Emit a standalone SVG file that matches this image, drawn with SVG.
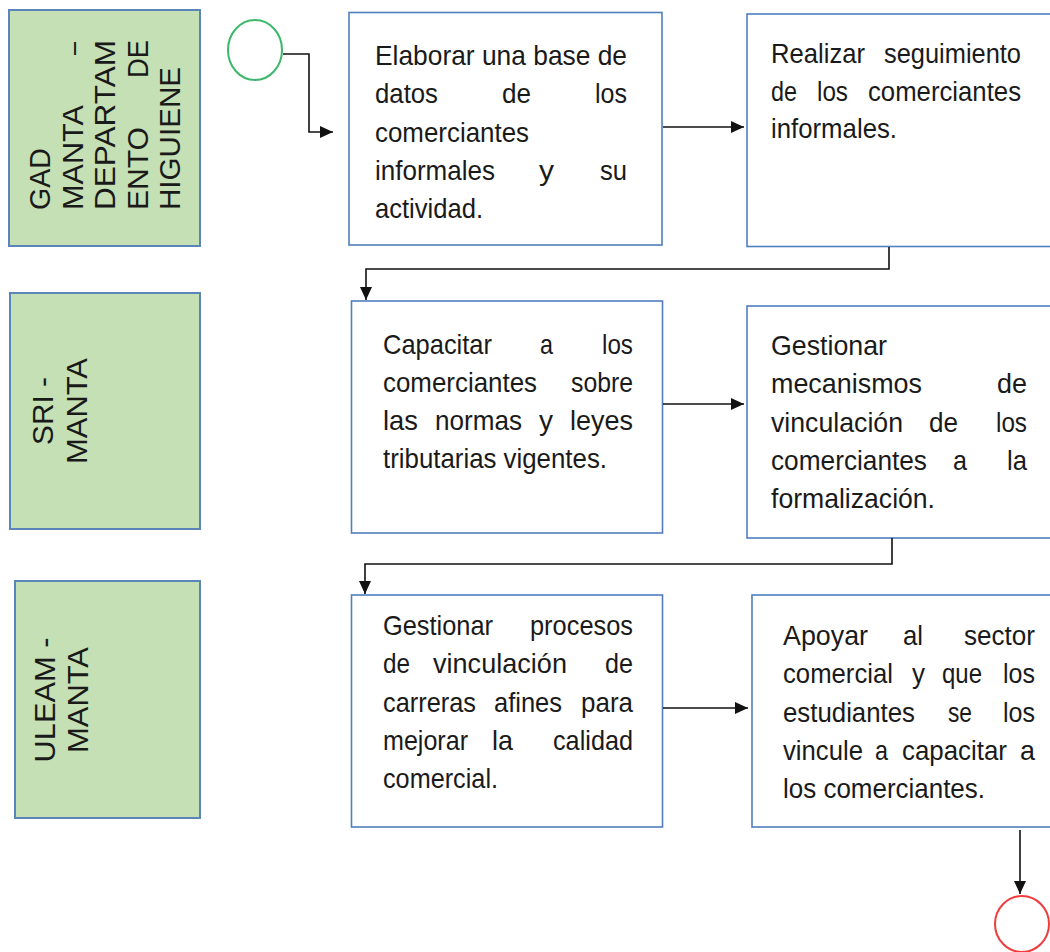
<svg xmlns="http://www.w3.org/2000/svg" width="1050" height="952" viewBox="0 0 1050 952">
<style>
.lane{fill:#c5e0b4;stroke:#5b84b8;stroke-width:2}
.box{fill:#ffffff;stroke:#4f7fbd;stroke-width:1.6}
.t{font-family:"Liberation Sans",Arial,sans-serif;font-size:27.5px;fill:#1a1a1a}
.lt{font-family:"Liberation Sans",Arial,sans-serif;font-size:29px;fill:#1a1a1a}
.c{fill:none;stroke:#111;stroke-width:1.6}
</style>
<defs>
<marker id="ah" markerUnits="userSpaceOnUse" markerWidth="14" markerHeight="14" viewBox="0 0 14 14" refX="13" refY="7" orient="auto">
<path d="M0,1 L13,7 L0,13 Z" fill="#111"/>
</marker>
</defs>
<rect width="1050" height="952" fill="#ffffff"/>

<g id="lane-gad">
<rect class="lane" x="9" y="10" width="191" height="236"/>
<g transform="translate(0,210) rotate(-90)">
<text class="lt" x="0" y="50" textLength="62" lengthAdjust="spacingAndGlyphs">GAD</text>
<text class="lt" x="0" y="83" textLength="105" lengthAdjust="spacingAndGlyphs">MANTA</text>
<text class="lt" x="155" y="83" textLength="13" lengthAdjust="spacingAndGlyphs">–</text>
<text class="lt" x="0" y="115" textLength="170" lengthAdjust="spacingAndGlyphs">DEPARTAM</text>
<text class="lt" x="0" y="148" textLength="83" lengthAdjust="spacingAndGlyphs">ENTO</text>
<text class="lt" x="132" y="148" textLength="38" lengthAdjust="spacingAndGlyphs">DE</text>
<text class="lt" x="0" y="180" textLength="143" lengthAdjust="spacingAndGlyphs">HIGUIENE</text>
</g>
</g>

<g id="lane-sri">
<rect class="lane" x="10" y="293" width="190" height="236"/>
<g transform="translate(0,411) rotate(-90)">
<text class="lt" x="0" y="53" text-anchor="middle" textLength="68" lengthAdjust="spacingAndGlyphs">SRI -</text>
<text class="lt" x="0" y="87" text-anchor="middle" textLength="106" lengthAdjust="spacingAndGlyphs">MANTA</text>
</g>
</g>

<g id="lane-uleam">
<rect class="lane" x="15" y="581" width="185" height="237"/>
<g transform="translate(0,700) rotate(-90)">
<text class="lt" x="0" y="55" text-anchor="middle" textLength="125" lengthAdjust="spacingAndGlyphs">ULEAM -</text>
<text class="lt" x="0" y="88" text-anchor="middle" textLength="106" lengthAdjust="spacingAndGlyphs">MANTA</text>
</g>
</g>

<g id="start">
<ellipse cx="255" cy="50" rx="27" ry="30" fill="#ffffff" stroke="#3cb86a" stroke-width="2"/>
</g>

<g id="end">
<ellipse cx="1022" cy="924" rx="27" ry="28" fill="#ffffff" stroke="#f03c3c" stroke-width="2"/>
</g>

<g id="box1">
<rect class="box" x="349" y="12.5" width="313" height="232.5"/>
<text class="t" x="375" y="65" textLength="252" lengthAdjust="spacingAndGlyphs">Elaborar una base de</text>
<text class="t" x="375" y="103" textLength="63" lengthAdjust="spacingAndGlyphs">datos</text>
<text class="t" x="502" y="103" textLength="29" lengthAdjust="spacingAndGlyphs">de</text>
<text class="t" x="595" y="103" textLength="32" lengthAdjust="spacingAndGlyphs">los</text>
<text class="t" x="375" y="142" textLength="154" lengthAdjust="spacingAndGlyphs">comerciantes</text>
<text class="t" x="375" y="180" textLength="120" lengthAdjust="spacingAndGlyphs">informales</text>
<text class="t" x="539" y="180" textLength="15" lengthAdjust="spacingAndGlyphs">y</text>
<text class="t" x="600" y="180" textLength="27" lengthAdjust="spacingAndGlyphs">su</text>
<text class="t" x="375" y="218" textLength="108" lengthAdjust="spacingAndGlyphs">actividad.</text>
</g>

<g id="box2">
<rect class="box" x="747" y="14" width="320" height="232.5"/>
<text class="t" x="771" y="63" textLength="94" lengthAdjust="spacingAndGlyphs">Realizar</text>
<text class="t" x="884" y="63" textLength="137" lengthAdjust="spacingAndGlyphs">seguimiento</text>
<text class="t" x="771" y="101" textLength="26" lengthAdjust="spacingAndGlyphs">de</text>
<text class="t" x="817" y="101" textLength="31" lengthAdjust="spacingAndGlyphs">los</text>
<text class="t" x="868" y="101" textLength="153" lengthAdjust="spacingAndGlyphs">comerciantes</text>
<text class="t" x="771" y="138" textLength="126" lengthAdjust="spacingAndGlyphs">informales.</text>
</g>

<g id="box3">
<rect class="box" x="351.5" y="301" width="311" height="232"/>
<text class="t" x="383" y="354" textLength="109" lengthAdjust="spacingAndGlyphs">Capacitar</text>
<text class="t" x="540" y="354" textLength="13" lengthAdjust="spacingAndGlyphs">a</text>
<text class="t" x="602" y="354" textLength="31" lengthAdjust="spacingAndGlyphs">los</text>
<text class="t" x="383" y="392" textLength="154" lengthAdjust="spacingAndGlyphs">comerciantes</text>
<text class="t" x="571" y="392" textLength="62" lengthAdjust="spacingAndGlyphs">sobre</text>
<text class="t" x="383" y="430" textLength="35" lengthAdjust="spacingAndGlyphs">las</text>
<text class="t" x="435" y="430" textLength="87" lengthAdjust="spacingAndGlyphs">normas</text>
<text class="t" x="539" y="430" textLength="14" lengthAdjust="spacingAndGlyphs">y</text>
<text class="t" x="570" y="430" textLength="63" lengthAdjust="spacingAndGlyphs">leyes</text>
<text class="t" x="383" y="468" textLength="224" lengthAdjust="spacingAndGlyphs">tributarias vigentes.</text>
</g>

<g id="box4">
<rect class="box" x="747" y="306" width="320" height="232"/>
<text class="t" x="771" y="355" textLength="116" lengthAdjust="spacingAndGlyphs">Gestionar</text>
<text class="t" x="771" y="393" textLength="151" lengthAdjust="spacingAndGlyphs">mecanismos</text>
<text class="t" x="997" y="393" textLength="30" lengthAdjust="spacingAndGlyphs">de</text>
<text class="t" x="771" y="432" textLength="132" lengthAdjust="spacingAndGlyphs">vinculación</text>
<text class="t" x="929" y="432" textLength="29" lengthAdjust="spacingAndGlyphs">de</text>
<text class="t" x="996" y="432" textLength="31" lengthAdjust="spacingAndGlyphs">los</text>
<text class="t" x="771" y="470" textLength="156" lengthAdjust="spacingAndGlyphs">comerciantes</text>
<text class="t" x="953" y="470" textLength="14" lengthAdjust="spacingAndGlyphs">a</text>
<text class="t" x="1007" y="470" textLength="20" lengthAdjust="spacingAndGlyphs">la</text>
<text class="t" x="771" y="508" textLength="164" lengthAdjust="spacingAndGlyphs">formalización.</text>
</g>

<g id="box5">
<rect class="box" x="351.5" y="595" width="311" height="232"/>
<text class="t" x="383" y="635" textLength="110" lengthAdjust="spacingAndGlyphs">Gestionar</text>
<text class="t" x="530" y="635" textLength="103" lengthAdjust="spacingAndGlyphs">procesos</text>
<text class="t" x="383" y="673" textLength="27" lengthAdjust="spacingAndGlyphs">de</text>
<text class="t" x="433" y="673" textLength="134" lengthAdjust="spacingAndGlyphs">vinculación</text>
<text class="t" x="605" y="673" textLength="28" lengthAdjust="spacingAndGlyphs">de</text>
<text class="t" x="383" y="712" textLength="93" lengthAdjust="spacingAndGlyphs">carreras</text>
<text class="t" x="494" y="712" textLength="68" lengthAdjust="spacingAndGlyphs">afines</text>
<text class="t" x="581" y="712" textLength="52" lengthAdjust="spacingAndGlyphs">para</text>
<text class="t" x="383" y="750" textLength="85" lengthAdjust="spacingAndGlyphs">mejorar</text>
<text class="t" x="492" y="750" textLength="21" lengthAdjust="spacingAndGlyphs">la</text>
<text class="t" x="553" y="750" textLength="80" lengthAdjust="spacingAndGlyphs">calidad</text>
<text class="t" x="383" y="788" textLength="115" lengthAdjust="spacingAndGlyphs">comercial.</text>
</g>

<g id="box6">
<rect class="box" x="752" y="595" width="315" height="232"/>
<text class="t" x="783" y="645" textLength="85" lengthAdjust="spacingAndGlyphs">Apoyar</text>
<text class="t" x="903" y="645" textLength="20" lengthAdjust="spacingAndGlyphs">al</text>
<text class="t" x="964" y="645" textLength="71" lengthAdjust="spacingAndGlyphs">sector</text>
<text class="t" x="783" y="683" textLength="110" lengthAdjust="spacingAndGlyphs">comercial</text>
<text class="t" x="912" y="683" textLength="13" lengthAdjust="spacingAndGlyphs">y</text>
<text class="t" x="942" y="683" textLength="40" lengthAdjust="spacingAndGlyphs">que</text>
<text class="t" x="1003" y="683" textLength="32" lengthAdjust="spacingAndGlyphs">los</text>
<text class="t" x="783" y="722" textLength="132" lengthAdjust="spacingAndGlyphs">estudiantes</text>
<text class="t" x="948" y="722" textLength="24" lengthAdjust="spacingAndGlyphs">se</text>
<text class="t" x="1003" y="722" textLength="32" lengthAdjust="spacingAndGlyphs">los</text>
<text class="t" x="783" y="760" textLength="80" lengthAdjust="spacingAndGlyphs">vincule</text>
<text class="t" x="875" y="760" textLength="13" lengthAdjust="spacingAndGlyphs">a</text>
<text class="t" x="902" y="760" textLength="105" lengthAdjust="spacingAndGlyphs">capacitar</text>
<text class="t" x="1020" y="760" textLength="15" lengthAdjust="spacingAndGlyphs">a</text>
<text class="t" x="783" y="798" textLength="202" lengthAdjust="spacingAndGlyphs">los comerciantes.</text>
</g>

<g id="connectors">
<path class="c" d="M283,54 H309 V132 H333" marker-end="url(#ah)"/>
<path class="c" d="M663,127 H744" marker-end="url(#ah)"/>
<path class="c" d="M889,247 V269 H366 V300" marker-end="url(#ah)"/>
<path class="c" d="M663,404 H744" marker-end="url(#ah)"/>
<path class="c" d="M892,538 V564 H365 V594" marker-end="url(#ah)"/>
<path class="c" d="M663,708 H748" marker-end="url(#ah)"/>
<path class="c" d="M1020,830 V894" marker-end="url(#ah)"/>
</g>
</svg>
